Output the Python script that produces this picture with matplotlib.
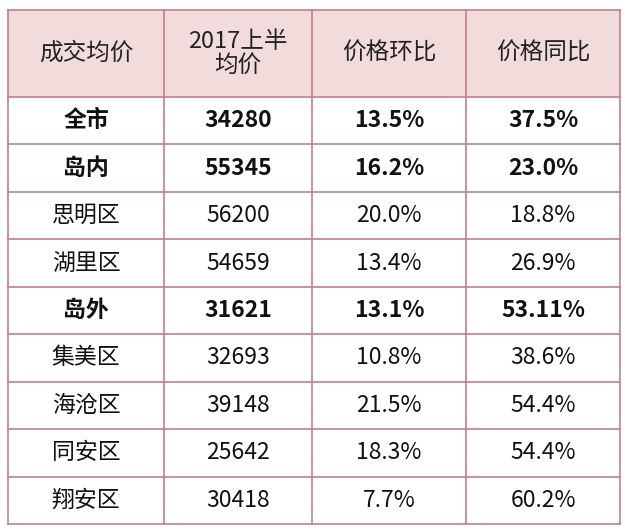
import matplotlib
matplotlib.use("Agg")
import matplotlib.pyplot as plt
from matplotlib.patches import Rectangle

plt.rcParams['font.family'] = ['Noto Sans CJK SC', 'DejaVu Sans']

headers = ["成交均价", "2017上半\n均价", "价格环比", "价格同比"]
regions = ["全市", "岛内", "思明区", "湖里区", "岛外", "集美区", "海沧区", "同安区", "翔安区"]
prices = ["34280", "55345", "56200", "54659", "31621", "32693", "39148", "25642", "30418"]
mom = ["13.5%", "16.2%", "20.0%", "13.4%", "13.1%", "10.8%", "21.5%", "18.3%", "7.7%"]
yoy = ["37.5%", "23.0%", "18.8%", "26.9%", "53.11%", "38.6%", "54.4%", "54.4%", "60.2%"]
bold_rows = {"全市", "岛内", "岛外"}

W, H = 625, 532
fig = plt.figure(figsize=(W/100, H/100), dpi=100)
ax = fig.add_axes([0, 0, 1, 1])
ax.set_xlim(0, W); ax.set_ylim(H, 0); ax.axis('off')

xs = [8, 164, 312, 466, 620]
top, hbot = 10, 97
rh = (524 - hbot) / len(regions)
ys = [top, hbot] + [hbot + rh*(i+1) for i in range(len(regions))]
line_c = '#c0808a'

ax.add_patch(Rectangle((xs[0], top), xs[-1]-xs[0], hbot-top, facecolor='#f2dcdb', edgecolor='none'))
for y in ys:
    ax.plot([xs[0], xs[-1]], [y, y], color=line_c, lw=1.2)
for x in xs:
    ax.plot([x, x], [ys[0], ys[-1]], color=line_c, lw=1.2)

for j, h in enumerate(headers):
    ax.text((xs[j]+xs[j+1])/2, (top+hbot)/2, h, ha='center', va='center',
            fontsize=17, color='#222222', linespacing=1.0)

for i, r in enumerate(regions):
    yc = (ys[i+1] + ys[i+2]) / 2
    fw = 'bold' if r in bold_rows else 'normal'
    vals = [r, prices[i], mom[i], yoy[i]]
    for j, v in enumerate(vals):
        ax.text((xs[j]+xs[j+1])/2, yc, v, ha='center', va='center',
                fontsize=16.5, fontweight=fw, color='#111111')

fig.savefig("out.png", dpi=100, facecolor='white')
